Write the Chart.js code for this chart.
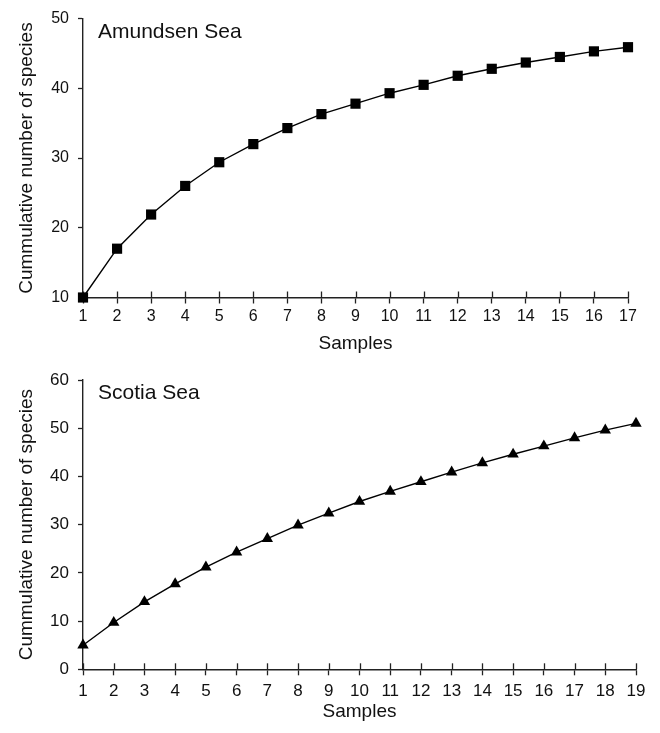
<!DOCTYPE html>
<html>
<head>
<meta charset="utf-8">
<script src="https://cdn.jsdelivr.net/npm/chart.js@4/dist/chart.umd.min.js"></script>
<style>
  html, body { margin: 0; padding: 0; background: #fff; }
  #wrap { position: relative; width: 660px; height: 733px; }
  #c1 { position: absolute; left: 0; top: 0; }
  #c2 { position: absolute; left: 0; top: 360px; }
</style>
</head>
<body>
<div id="wrap">
  <canvas id="c1" width="660" height="360"></canvas>
  <canvas id="c2" width="660" height="373"></canvas>
</div>
<script>
// ---- Data ----
const samplesAmundsen = [1, 2, 3, 4, 5, 6, 7, 8, 9, 10, 11, 12, 13, 14, 15, 16, 17];
const speciesAmundsen = [10, 17.0, 21.9, 26.0, 29.4, 32.0, 34.3, 36.3, 37.8, 39.3, 40.5, 41.8, 42.8, 43.7, 44.5, 45.3, 45.9];
const samplesScotia = [1, 2, 3, 4, 5, 6, 7, 8, 9, 10, 11, 12, 13, 14, 15, 16, 17, 18, 19];
const speciesScotia = [5.0, 9.7, 14.0, 17.7, 21.2, 24.3, 27.1, 29.9, 32.4, 34.8, 36.9, 38.9, 40.9, 42.8, 44.6, 46.3, 48.0, 49.6, 51.0];
const yTicksAmundsen = [10, 20, 30, 40, 50];
const yTicksScotia = [0, 10, 20, 30, 40, 50, 60];
const titleAmundsen = 'Amundsen Sea';
const titleScotia = 'Scotia Sea';
const xTitle = 'Samples';
const yTitle = 'Cummulative number of species';

const FONT = "'Liberation Sans', Arial, Helvetica, sans-serif";
const INK = '#111';
const AXIS = '#222';

// Plugin: upward half of x tick marks + in-plot panel label
const panelPlugin = {
  id: 'panelPlugin',
  beforeDatasetsDraw(chart, args, opts) {
    const ctx = chart.ctx;
    const xs = chart.scales.x;
    const bottom = chart.chartArea.bottom;
    ctx.save();
    ctx.strokeStyle = AXIS;
    ctx.lineWidth = 1.3;
    xs.ticks.forEach(t => {
      const px = Math.round(xs.getPixelForValue(t.value)) + 0.5;
      ctx.beginPath();
      ctx.moveTo(px, bottom - opts.up);
      ctx.lineTo(px, bottom);
      ctx.stroke();
    });
    ctx.fillStyle = INK;
    ctx.font = opts.fontSize + 'px ' + FONT;
    ctx.textBaseline = 'middle';
    ctx.textAlign = 'left';
    ctx.fillText(opts.text, chart.chartArea.left + opts.dx, chart.chartArea.top + opts.dy);
    ctx.restore();
  }
};

function makeChart(canvasId, samples, values, yTicks, label, shape, cfg) {
  const points = samples.map((s, i) => ({ x: s, y: values[i] }));
  return new Chart(document.getElementById(canvasId), {
    type: 'line',
    data: {
      datasets: [{
        data: points,
        borderColor: '#000',
        borderWidth: 1.4,
        backgroundColor: '#000',
        pointBackgroundColor: '#000',
        pointBorderColor: '#000',
        pointBorderWidth: 0,
        pointStyle: shape,
        pointRadius: cfg.pointRadius,
        tension: 0,
        fill: false,
        clip: false
      }]
    },
    options: {
      responsive: false,
      animation: false,
      events: [],
      layout: { padding: { left: 0, top: cfg.padTop, right: cfg.padRight, bottom: 0 } },
      plugins: {
        legend: { display: false },
        tooltip: { enabled: false },
        title: { display: false },
        panelPlugin: { text: label, fontSize: 21, dx: 15, dy: cfg.labelDy, up: 6 }
      },
      scales: {
        x: {
          type: 'linear',
          min: samples[0],
          max: samples[samples.length - 1],
          afterFit(scale) { scale.height = cfg.xHeight; },
          afterBuildTicks(scale) { scale.ticks = samples.map(v => ({ value: v })); },
          border: { display: true, color: AXIS, width: 1.4 },
          grid: { display: true, drawOnChartArea: false, drawTicks: true, tickLength: 6, tickColor: AXIS, tickWidth: 1.3 },
          ticks: { color: INK, font: { family: FONT, size: cfg.tickSize }, padding: cfg.xPad, maxRotation: 0, autoSkip: false },
          title: { display: true, text: xTitle, color: INK, font: { family: FONT, size: 19 }, padding: { top: 0, bottom: cfg.xTitlePad } }
        },
        y: {
          type: 'linear',
          min: yTicks[0],
          max: yTicks[yTicks.length - 1],
          afterFit(scale) { scale.width = 83; },
          afterBuildTicks(scale) { scale.ticks = yTicks.map(v => ({ value: v })); },
          border: { display: true, color: AXIS, width: 1.4 },
          grid: { display: true, drawOnChartArea: false, drawTicks: true, tickLength: 5, tickColor: AXIS, tickWidth: 1.3 },
          ticks: { color: INK, font: { family: FONT, size: cfg.tickSize }, padding: 9 },
          title: { display: true, text: yTitle, color: INK, font: { family: FONT, size: 19 }, padding: { top: 15, bottom: 0 } }
        }
      }
    },
    plugins: [panelPlugin]
  });
}

makeChart('c1', samplesAmundsen, speciesAmundsen, yTicksAmundsen, titleAmundsen, 'rect',
  { pointRadius: 7.2, padTop: 13, padRight: 32, xHeight: 62.5, tickSize: 16, xPad: 3, xTitlePad: 5, labelDy: 14 });
makeChart('c2', samplesScotia, speciesScotia, yTicksScotia, titleScotia, 'triangle',
  { pointRadius: 6.6, padTop: 20, padRight: 24, xHeight: 63.7, tickSize: 17, xPad: 6, xTitlePad: 10, labelDy: 13 });
</script>
</body>
</html>
